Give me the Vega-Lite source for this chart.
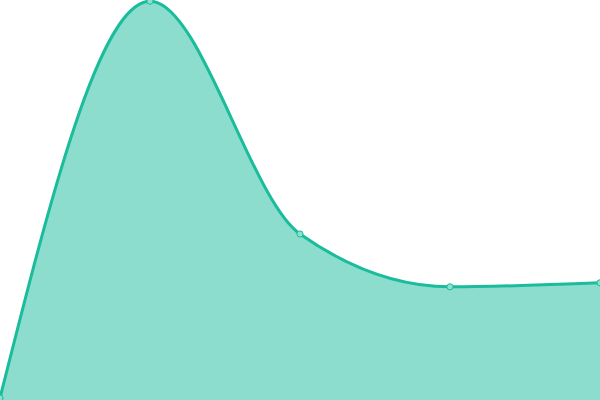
{
  "$schema": "https://vega.github.io/schema/vega-lite/v6.json",
  "width": 600,
  "height": 400,
  "autosize": {"type": "fit", "contains": "padding"},
  "padding": 0,
  "background": "white",
  "config": {"view": {"stroke": null}},
  "data": {
    "values": [
      {"step": 0, "value": 0.5},
      {"step": 1, "value": 99.7},
      {"step": 2, "value": 41.5},
      {"step": 3, "value": 28.3},
      {"step": 4, "value": 29.3}
    ]
  },
  "encoding": {
    "x": {"field": "step", "type": "quantitative", "scale": {"domain": [0, 4], "nice": false, "zero": false}, "axis": null},
    "y": {"field": "value", "type": "quantitative", "scale": {"domain": [0, 100], "nice": false}, "axis": null}
  },
  "layer": [
    {
      "mark": {"type": "area", "interpolate": "monotone", "color": "#1abc9c", "fillOpacity": 0.5, "clip": true,
               "line": {"color": "#1abc9c", "strokeWidth": 3, "interpolate": "monotone"}}
    },
    {
      "mark": {"type": "point", "filled": true, "fill": "#8ce0cf", "stroke": "#1abc9c", "strokeWidth": 1, "size": 38, "opacity": 1, "clip": true}
    }
  ]
}
